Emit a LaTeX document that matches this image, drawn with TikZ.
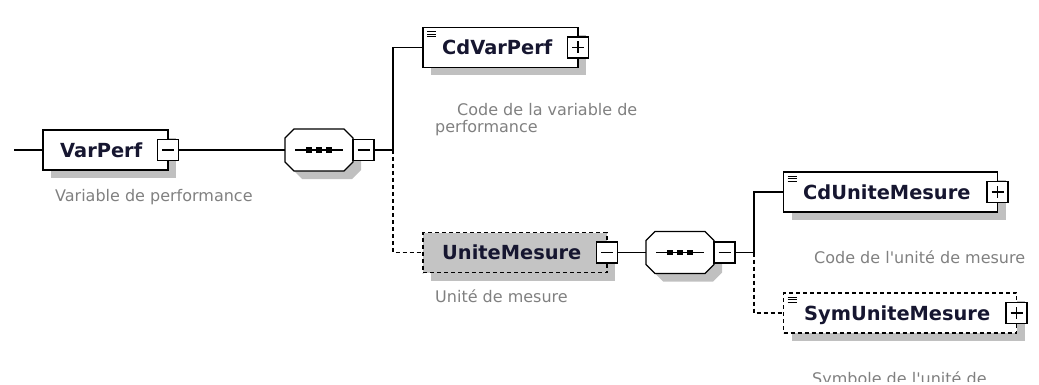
\documentclass[tikz,border=0pt]{standalone}
\usepackage{fontspec}
\setmainfont{DejaVu Sans}
\usetikzlibrary{shadows}
\definecolor{desc}{RGB}{128,128,128}
\definecolor{shad}{RGB}{192,192,192}
\definecolor{optfill}{RGB}{196,196,196}
\definecolor{labc}{RGB}{22,22,48}
\newcommand\octpath[1]{([xshift=9pt]#1.north west) -- ([xshift=-9pt]#1.north east) -- ([yshift=-9pt]#1.north east) -- ([yshift=9pt]#1.south east) -- ([xshift=-9pt]#1.south east) -- ([xshift=9pt]#1.south west) -- ([yshift=9pt]#1.south west) -- ([yshift=-9pt]#1.north west) -- cycle}
\newcommand\drawseq[1]{%
  \fill[shad, transform canvas={shift={(8pt,-8pt)}}] \octpath{#1};
  \draw[fill=white, line width=1.2pt, line join=miter] \octpath{#1};
  \draw[line width=1.2pt] ([xshift=10pt]#1.west) -- ([xshift=-10pt]#1.east);
  \foreach \xx in {-10,0,10}
    \fill ([xshift=\xx pt]#1.center) +(-2.6pt,-2.6pt) rectangle +(2.6pt,2.6pt);
}
\tikzset{
  conn/.style={line width=1.2pt},
  optconn/.style={line width=1.2pt, dash pattern=on 4pt off 3pt},
  elem/.style={draw=black, fill=white, rectangle, inner sep=0pt, outer sep=0pt, line width=1.2pt,
    minimum height=40pt,
    drop shadow={shadow xshift=8pt, shadow yshift=-8pt, fill=shad, opacity=1}},
  optelem/.style={elem, dash pattern=on 4pt off 3pt},
  iconic/.style={path picture={
    \foreach \yy in {4,6.5,9}
      \draw[line width=0.9pt,solid] ([xshift=4pt,yshift=-\yy pt]path picture bounding box.north west) -- ++(9pt,0pt);}},
  pmbox/.style={draw=black, fill=white, rectangle, inner sep=0pt, outer sep=0pt, minimum size=21pt, line width=1.2pt, solid},
  minusbox/.style={pmbox, path picture={
    \draw[line width=1.2pt] ([xshift=4.5pt]path picture bounding box.west) -- ([xshift=-4.5pt]path picture bounding box.east);}},
  plusbox/.style={pmbox, path picture={
    \draw[line width=1.2pt] ([xshift=4.5pt]path picture bounding box.west) -- ([xshift=-4.5pt]path picture bounding box.east);
    \draw[line width=1.2pt] ([yshift=-4.5pt]path picture bounding box.north) -- ([yshift=4.5pt]path picture bounding box.south);}},
  seqbox/.style={rectangle, draw=none, inner sep=0pt, outer sep=0pt, minimum width=68pt, minimum height=42pt},
  labl/.style={font=\bfseries\fontsize{19.4}{22}\selectfont, text=labc, inner sep=0pt, anchor=base west},
  descr/.style={font=\fontsize{16}{18}\selectfont, text=desc, inner sep=0pt, anchor=base west}
}
\begin{document}
\begin{tikzpicture}[x=1pt,y=-1pt]
\useasboundingbox (0,0) rectangle (1039,385);
% VarPerf
\coordinate (start) at (14,150);
\node[elem, minimum width=125pt] (varperf) at (105.5,150) {};
\node[minusbox] (varperfm) at (varperf.east) {};
\node[labl] (varperfl) at (60,157.5) {VarPerf};
\node[descr] (varperfd) at (55,201) {Variable de performance};
\draw[conn] (start) -- (varperf.west);
% sequence 1
\node[seqbox] (seq1) at (319,150) {};
\drawseq{seq1}
\node[minusbox, anchor=west] (seq1m) at (seq1.east) {};
\draw[conn] (varperfm.east) -- (seq1.west);
\coordinate (br1) at (393,150);
\draw[conn] (seq1m.east) -- (br1);
% CdVarPerf
\node[elem, iconic, minimum width=155pt] (cdvarperf) at (500.5,47.5) {};
\node[plusbox] (cdvarperfp) at (cdvarperf.east) {};
\node[labl] (cdvarperfl) at (442,55) {CdVarPerf};
\node[descr] (cdvarperfd1) at (457,116) {Code de la variable de};
\node[descr] (cdvarperfd2) at (435,133) {performance};
\draw[conn] (br1) |- (cdvarperf.west);
% UniteMesure
\node[optelem, fill=optfill, minimum width=184pt] (unite) at (515,252.5) {};
\node[minusbox] (unitem) at (unite.east) {};
\node[labl] (unitel) at (442,259.5) {UniteMesure};
\node[descr] (united) at (435,302) {Unité de mesure};
\draw[optconn] (br1) |- (unite.west);
% sequence 2
\node[seqbox] (seq2) at (680,252.5) {};
\drawseq{seq2}
\node[minusbox, anchor=west] (seq2m) at (seq2.east) {};
\draw[conn] (unitem.east) -- (seq2.west);
\coordinate (br2) at (754,252.5);
\draw[conn] (seq2m.east) -- (br2);
% CdUniteMesure
\node[elem, iconic, minimum width=214pt] (cdunite) at (890.5,192) {};
\node[plusbox] (cdunitep) at (cdunite.east) {};
\node[labl] (cdunitel) at (803,199) {CdUniteMesure};
\node[descr] (cdunited) at (814,263) {Code de l\textquotesingle unité de mesure};
\draw[conn] (br2) |- (cdunite.west);
% SymUniteMesure
\node[optelem, iconic, minimum width=233pt] (symunite) at (900,313) {};
\node[plusbox] (symunitep) at (symunite.east) {};
\node[labl] (symunitel) at (804,320) {SymUniteMesure};
\draw[optconn] (br2) |- (symunite.west);
\begin{scope}
\clip (700,340) rectangle (1039,381);
\node[descr] (symunited) at (812,384) {Symbole de l\textquotesingle unité de};
\end{scope}
\end{tikzpicture}
\end{document}
